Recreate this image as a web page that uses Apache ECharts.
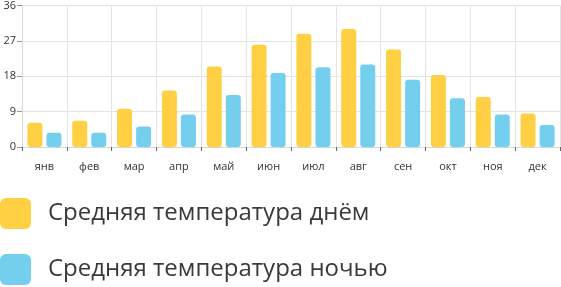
<!DOCTYPE html>
<html><head><meta charset="utf-8">
<script src="https://cdn.jsdelivr.net/npm/echarts@6/dist/echarts.min.js"></script>
<style>html,body{margin:0;padding:0;background:#fff}#c{width:561px;height:287px}</style>
</head><body><div id="c"></div>
<script>
var months = ['янв','фев','мар','апр','май','июн','июл','авг','сен','окт','ноя','дек'];
var dayTemp = [6.2, 6.7, 9.7, 14.4, 20.5, 26, 28.8, 30, 24.8, 18.3, 12.7, 8.5];
var nightTemp = [3.6, 3.6, 5.2, 8.3, 13.2, 18.8, 20.3, 21, 17.1, 12.4, 8.3, 5.6];
var yTicks = [0, 9, 18, 27, 36];
var seriesNames = ['Средняя температура днём', 'Средняя температура ночью'];

var icon = 'path://M6,0 H25 A6,6 0 0 1 31,6 V25 A6,6 0 0 1 25,31 H6 A6,6 0 0 1 0,25 V6 A6,6 0 0 1 6,0 Z';
var chart = echarts.init(document.getElementById('c'), null, {renderer:'canvas'});
chart.setOption({
  animation: false,
  textStyle: {fontFamily: 'Open Sans'},
  grid: {left: 22, right: 1, top: 4, bottom: 140, containLabel: false},
  legend: {
    orient: 'vertical', left: 0, top: 198, padding: 0,
    itemWidth: 31, itemHeight: 31, itemGap: 25, icon: icon,
    textStyle: {fontSize: 24, color: '#3a3a3a', fontFamily: 'Open Sans', padding: [0,0,0,12]},
    data: seriesNames
  },
  xAxis: {
    type: 'category', data: months,
    axisLine: {show: true, lineStyle: {color: '#d6d6d6'}},
    axisTick: {show: true, length: 4, lineStyle: {color: '#666'}},
    splitLine: {show: true, lineStyle: {color: '#e4e4e4'}},
    axisLabel: {fontSize: 11, color: '#333', margin: 14, interval: 0}
  },
  yAxis: {
    type: 'value', min: yTicks[0], max: yTicks[yTicks.length-1], interval: yTicks[1]-yTicks[0],
    axisLine: {show: true, lineStyle: {color: '#d6d6d6'}},
    axisTick: {show: true, length: 5, lineStyle: {color: '#999'}},
    splitLine: {show: true, lineStyle: {color: '#e4e4e4'}},
    axisLabel: {fontSize: 11, color: '#333', margin: 6}
  },
  series: [
    {name: seriesNames[0], type: 'bar', data: dayTemp, barWidth: 15, barGap: '27%',
     itemStyle: {color: '#FFD044', borderRadius: 3}},
    {name: seriesNames[1], type: 'bar', data: nightTemp, barWidth: 15,
     itemStyle: {color: '#74CFEE', borderRadius: 3}}
  ]
});
</script></body></html>
